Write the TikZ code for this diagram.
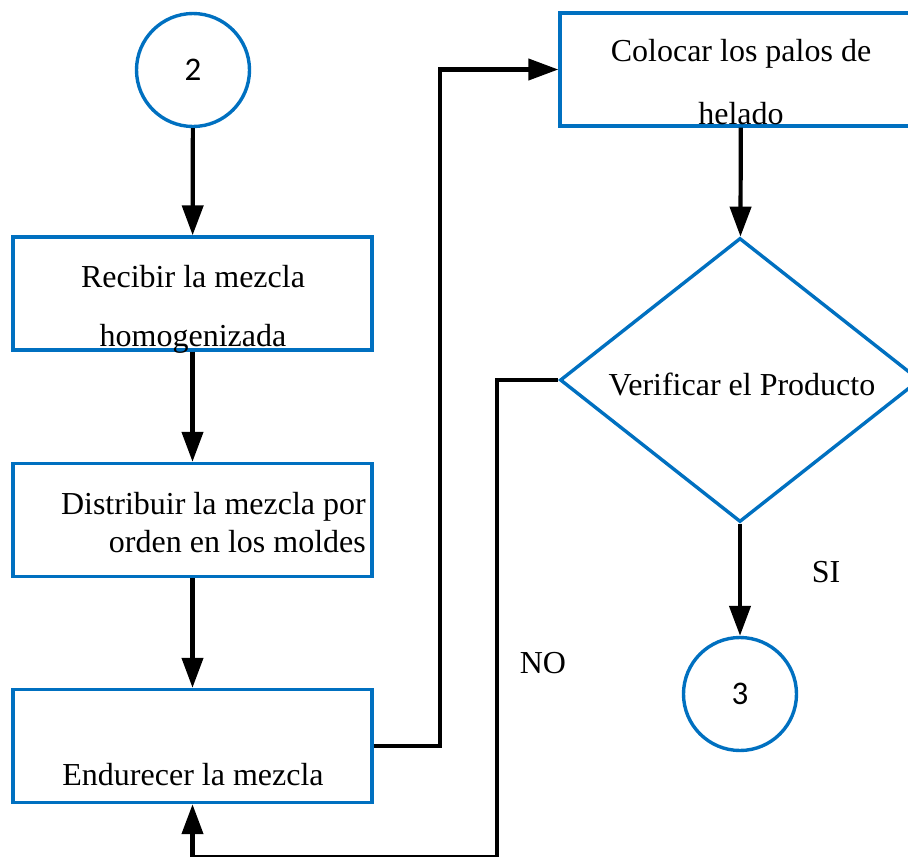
\documentclass[tikz,border=0pt]{standalone}
\usepackage{fontspec}
\setmainfont{Liberation Serif}
\newfontfamily\digitfont{Carlito}
\usetikzlibrary{arrows.meta,shapes.geometric}
\definecolor{flowblue}{RGB}{0,112,192}
\tikzset{
  boxstyle/.style={draw=flowblue, line width=3.4pt, rectangle, minimum width=359pt, minimum height=113pt, inner sep=0pt},
  circstyle/.style={draw=flowblue, line width=3.4pt, circle, minimum size=113pt, inner sep=0pt, font=\digitfont\fontsize{33}{38}\selectfont},
  diastyle/.style={draw=flowblue, line width=3.4pt, diamond, minimum width=360pt, minimum height=284pt, inner sep=0pt},
  txt/.style={font=\fontsize{32}{38}\selectfont, inner sep=0pt},
  arr/.style={draw=black, line width=4.2pt, -{Triangle[length=30pt,width=21pt]}},
  conn/.style={draw=black, line width=4.2pt}
}
\begin{document}
\begin{tikzpicture}[x=1pt,y=-1pt]
\useasboundingbox (0,0) rectangle (908,857);
\clip (0,0) rectangle (908,857);
\node[circstyle] (c2) at (193,70) {2};
\node[boxstyle] (b1) at (192.5,293.5) {};
\node[boxstyle] (b2) at (192.5,520) {};
\node[boxstyle] (b3) at (192.5,746) {};
\node[boxstyle, minimum width=362pt] (b4) at (741,69.5) {};
\node[diastyle] (dia) at (740,380) {};
\node[circstyle] (c3) at (740,694) {3};
% texts
\node[txt] (t1a) at (193,277) {Recibir la mezcla};
\node[txt] (t1b) at (193,339) {homogenizada};
\node[txt, align=right, anchor=east] (t2) at (366,523) {Distribuir la mezcla por\\orden en los moldes};
\node[txt] (t3) at (193,775) {Endurecer la mezcla};
\node[txt] (t4a) at (741,54) {Colocar los palos de};
\node[txt] (t4b) at (741,114) {helado};
\node[txt] (t5) at (742,384) {Verificar el Producto};
\node[txt] (no) at (543,663) {NO};
\node[txt] (si) at (826,572) {SI};
% connectors
\draw[arr] (c2) -- (b1);
\draw[arr] (b1) -- (b2);
\draw[arr] (b2) -- (b3);
\coordinate (up) at (440,746);
\draw[arr] (b3.east) -- (up) |- (b4.west);
\draw[arr] (b4) -- (dia);
\draw[arr] (dia) -- (c3);
\coordinate (lp) at (497,857);
\draw[arr] (dia.west) -| (lp) -| (b3.south);
\end{tikzpicture}
\end{document}
